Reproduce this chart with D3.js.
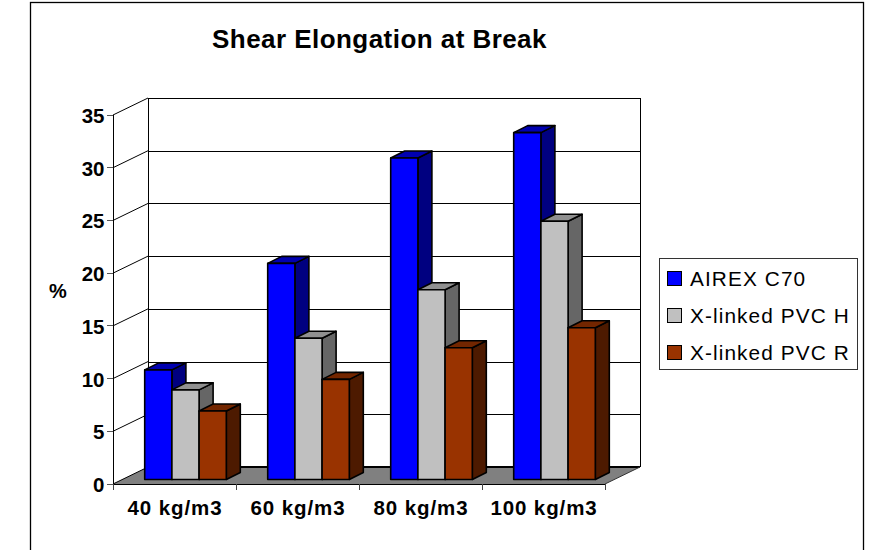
<!DOCTYPE html>
<html><head><meta charset="utf-8">
<style>html,body{margin:0;padding:0;background:#fff}svg{display:block}text{font-family:"Liberation Sans",Arial,sans-serif;fill:#000}</style>
<script src="https://cdn.jsdelivr.net/npm/d3@7/dist/d3.min.js"></script></head><body>
<svg id="c" width="878" height="550"></svg>
<script>
const categories=["40 kg/m3","60 kg/m3","80 kg/m3","100 kg/m3"];
const seriesNames=["AIREX C70","X-linked PVC H","X-linked PVC R"];
const airex=[10.4,20.5,30.5,32.9];
const pvcH=[8.5,13.4,18,24.5];
const pvcR=[6.5,9.5,12.5,14.4];
const yTicks=[0,5,10,15,20,25,30,35];
const colors=[["#0000ff","#0000b0","#000080"],["#c0c0c0","#909090","#666666"],["#993300","#732600","#4d1a00"]];
const svg=d3.select("#c");
const y=d3.scaleLinear().domain([0,35]).range([484,115]);
const x=d3.scaleBand().domain(categories).range([113,605]);
const dx=35,dy=-17,bdx=14,bdy=-7,bx0=31.7,bw=27.2,by=-4.5;
const line=(x1,y1,x2,y2,c="#000",w=1)=>svg.append("line").attr("x1",x1).attr("y1",y1).attr("x2",x2).attr("y2",y2).attr("stroke",c).attr("stroke-width",w).attr("shape-rendering","crispEdges");
svg.append("rect").attr("x",30.5).attr("y",2.5).attr("width",833).attr("height",570).attr("fill","#fff").attr("stroke","#000").attr("stroke-width",1.3);
// floor
svg.append("polygon").attr("points",[[113,y(0)],[113+dx,y(0)+dy],[605+dx,y(0)+dy],[605,y(0)]].join(" ")).attr("fill","#808080");
// wall
yTicks.forEach(t=>{
  const yy=y(t);
  if(t>0){
    svg.append("line").attr("x1",113).attr("y1",yy).attr("x2",113+dx).attr("y2",yy+dy).attr("stroke","#000");
    line(113+dx,yy+dy+.5,605+dx,yy+dy+.5);
  }
  line(107,yy,113,yy,"#555");
  svg.append("text").attr("x",104.5).attr("y",yy+8).attr("text-anchor","end").attr("font-weight","bold").attr("font-size",20.5).text(t);
});
line(113+dx,y(35)+dy,113+dx,y(0)+dy);
line(605+dx,y(35)+dy,605+dx,y(0)+dy);
line(113+dx,y(0)+dy,605+dx,y(0)+dy,"#000",2);
svg.append("line").attr("x1",113).attr("y1",y(0)).attr("x2",113+dx).attr("y2",y(0)+dy).attr("stroke","#000");
svg.append("line").attr("x1",605).attr("y1",y(0)).attr("x2",605+dx).attr("y2",y(0)+dy).attr("stroke","#333");
line(113,y(35),113,y(0)+6,"#000");
line(113,y(0)+.5,605,y(0)+.5,"#000");
[...categories.map(c=>x(c)),605].forEach(v=>line(v,y(0),v,y(0)+6,"#444"));
categories.forEach(c=>svg.append("text").attr("x",x(c)+x.bandwidth()/2+.5).attr("y",515).attr("text-anchor","middle").attr("font-weight","bold").attr("font-size",20.5).attr("letter-spacing",0.9).text(c));
// bars
[airex,pvcH,pvcR].forEach((vals,s)=>{
  vals.forEach((v,i)=>{
    const x0=x(categories[i])+bx0+s*bw,x1=x0+bw,yb=y(0)+by,yt=y(v)+by;
    const g=svg.append("g").attr("stroke","#000").attr("stroke-width",1.6).attr("stroke-linejoin","round");
    g.append("polygon").attr("points",[[x1,yb],[x1+bdx,yb+bdy],[x1+bdx,yt+bdy],[x1,yt]].join(" ")).attr("fill",colors[s][2]);
    g.append("polygon").attr("points",[[x0,yt],[x0+bdx,yt+bdy],[x1+bdx,yt+bdy],[x1,yt]].join(" ")).attr("fill",colors[s][1]);
    g.append("rect").attr("x",x0).attr("y",yt).attr("width",bw).attr("height",yb-yt).attr("fill",colors[s][0]);
  });
});
svg.append("text").attr("x",379.5).attr("y",48).attr("text-anchor","middle").attr("font-weight","bold").attr("font-size",26).attr("letter-spacing",0.45).text("Shear Elongation at Break");
svg.append("text").attr("x",58).attr("y",298).attr("text-anchor","middle").attr("font-weight","bold").attr("font-size",20).text("%");
// legend
svg.append("rect").attr("x",659.5).attr("y",258.5).attr("width",198).attr("height",111).attr("fill","#fff").attr("stroke","#333");
seriesNames.forEach((n,i)=>{
  const yy=278+37*i;
  svg.append("rect").attr("x",667.5).attr("y",yy-6.5).attr("width",14).attr("height",14).attr("fill",colors[i][0]).attr("stroke","#000");
  svg.append("text").attr("x",690).attr("y",yy+8).attr("font-size",20.8).attr("letter-spacing",1.1).text(n);
});
</script></body></html>
